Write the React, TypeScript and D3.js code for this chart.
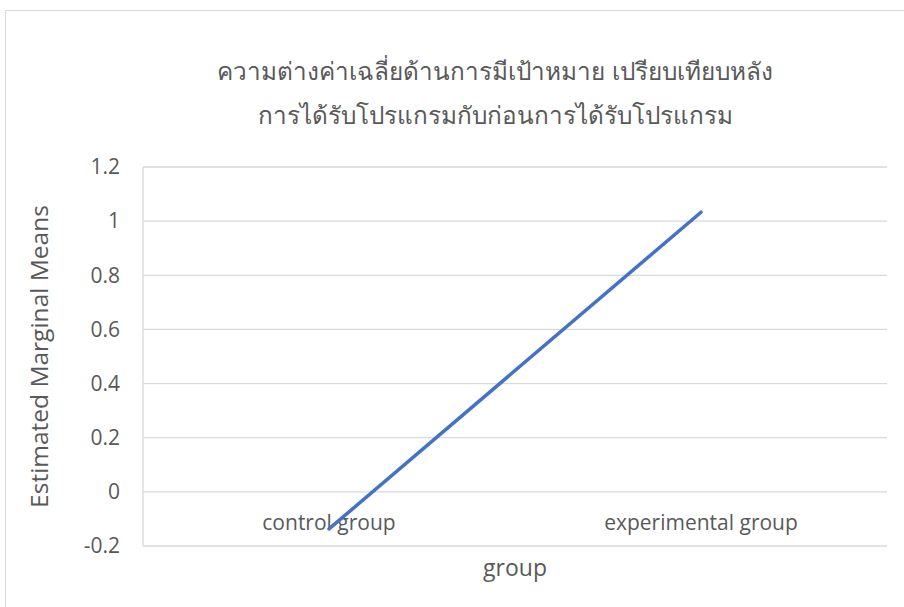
import React from "react";
import * as d3 from "d3";

const categories = ["control group", "experimental group"];
const means = [-0.137, 1.033];
const yTicks = [-0.2, 0, 0.2, 0.4, 0.6, 0.8, 1, 1.2];
const titleLines = [
  "ความต่างค่าเฉลี่ยด้านการมีเป้าหมาย เปรียบเทียบหลัง",
  "การได้รับโปรแกรมกับก่อนการได้รับโปรแกรม",
];

export default function App() {
  const W = 904, H = 607;
  const left = 143, right = 887, top = 167, bottom = 546;
  const x = d3.scaleBand<string>().domain(categories).range([left, right]);
  const y = d3.scaleLinear().domain([-0.2, 1.2]).range([bottom, top]);
  const line = d3.line<number>()
    .x((_, i) => (x(categories[i]) as number) + x.bandwidth() / 2)
    .y((d) => y(d));
  const font = "'Open Sans', sans-serif";
  const txt = "#595959";
  return (
    <svg width={W} height={H} style={{ position: "absolute", left: 0, top: 0 }}>
      <rect x={0} y={0} width={W} height={H} fill="#fff" />
      <rect x={5.5} y={10.5} width={1000} height={700} fill="#fff" stroke="#d9d9d9" />
      {titleLines.map((t, i) => (
        <text key={i} x={495} y={80 + i * 44} textAnchor="middle" fontSize={24.3}
          fill={txt} fontFamily="'Noto Sans', 'DejaVu Sans', sans-serif" fontWeight={300}>{t}</text>
      ))}
      {yTicks.map((t) => (
        <g key={t}>
          <line x1={left} x2={right} y1={y(t)} y2={y(t)} stroke="#d9d9d9" strokeWidth={1.3} />
          <text x={120} y={y(t)} dy="0.35em" textAnchor="end" fontSize={21} fill={txt} fontFamily={font}>{String(t)}</text>
        </g>
      ))}
      <line x1={left} x2={left} y1={top} y2={bottom} stroke="#d9d9d9" strokeWidth={1.3} />
      {categories.map((c) => (
        <text key={c} x={(x(c) as number) + x.bandwidth() / 2} y={y(0) + 31} dy="0.35em"
          textAnchor="middle" fontSize={21} fill={txt} fontFamily={font}>{c}</text>
      ))}
      <path d={line(means) || ""} fill="none" stroke="#4472c4" strokeWidth={3.5} strokeLinecap="round" />
      <text x={(left + right) / 2} y={568} dy="0.35em" textAnchor="middle" fontSize={23} fill={txt} fontFamily={font}>group</text>
      <text transform={`translate(48,${(top + bottom) / 2}) rotate(-90)`} textAnchor="middle"
        fontSize={24.5} fill={txt} fontFamily={font}>Estimated Marginal Means</text>
    </svg>
  );
}
